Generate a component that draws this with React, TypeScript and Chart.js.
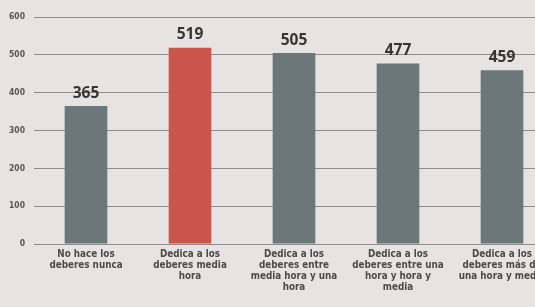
import React, { useEffect, useRef } from "react";
import { Chart, registerables } from "chart.js";
Chart.register(...registerables);

const categories: string[][] = [
  ["No hace los", "deberes nunca"],
  ["Dedica a los", "deberes media", "hora"],
  ["Dedica a los", "deberes entre", "media hora y una", "hora"],
  ["Dedica a los", "deberes entre una", "hora y hora y", "media"],
  ["Dedica a los", "deberes más de", "una hora y media"],
];
const values: number[] = [365, 519, 505, 477, 459];
const barColors: string[] = ["#6c7779", "#c9564b", "#6c7779", "#6c7779", "#6c7779"];
const yMin = 0;
const yMax = 600;
const yStep = 100;

const valueLabels = {
  id: "valueLabels",
  afterDatasetsDraw(chart: any) {
    const ctx = chart.ctx;
    const meta = chart.getDatasetMeta(0);
    ctx.save();
    ctx.font = "bold 15.5px 'Open Sans', sans-serif";
    ctx.fillStyle = "#363434";
    ctx.textAlign = "center";
    ctx.textBaseline = "bottom";
    meta.data.forEach((el: any, i: number) => {
      ctx.fillText(String(values[i]), el.x, el.y - 5);
    });
    ctx.restore();
  },
};

export default function App() {
  const ref = useRef<HTMLCanvasElement>(null);
  useEffect(() => {
    document.body.style.margin = "0";
    const chart = new Chart(ref.current!, {
      type: "bar",
      data: {
        labels: categories,
        datasets: [
          {
            data: values,
            backgroundColor: barColors,
            barPercentage: 0.41,
            categoryPercentage: 1,
          },
        ],
      },
      options: {
        animation: false,
        responsive: false,
        devicePixelRatio: 1,
        layout: { padding: { top: 17, right: 6, left: 0, bottom: 0 } },
        plugins: { legend: { display: false }, tooltip: { enabled: false } },
        scales: {
          x: {
            grid: { display: false },
            border: { display: false },
            ticks: {
              autoSkip: false,
              maxRotation: 0,
              minRotation: 0,
              padding: -3,
              color: "#4e4a4a",
              font: { family: "'DejaVu Sans Condensed', 'Liberation Sans Narrow', sans-serif", size: 9.8, weight: "bold", lineHeight: 1.12 },
            },
            afterFit: (s: any) => {
              s.height = 63;
            },
          },
          y: {
            min: yMin,
            max: yMax,
            border: { display: false },
            grid: { color: "#8f8c8b", lineWidth: 1, drawTicks: false },
            ticks: {
              stepSize: yStep,
              padding: 9,
              color: "#5a5656",
              font: { family: "'DejaVu Sans Condensed', sans-serif", size: 8.5, weight: "bold" },
            },
            afterFit: (s: any) => {
              s.width = 34;
            },
          },
        },
      },
      plugins: [valueLabels],
    });
    return () => chart.destroy();
  }, []);
  return (
    <div
      style={{
        position: "absolute",
        left: 0,
        top: 0,
        width: 535,
        height: 307,
        overflow: "hidden",
        background: "#e7e3e2",
      }}
    >
      <canvas ref={ref} width={560} height={307} style={{ display: "block" }} />
    </div>
  );
}
